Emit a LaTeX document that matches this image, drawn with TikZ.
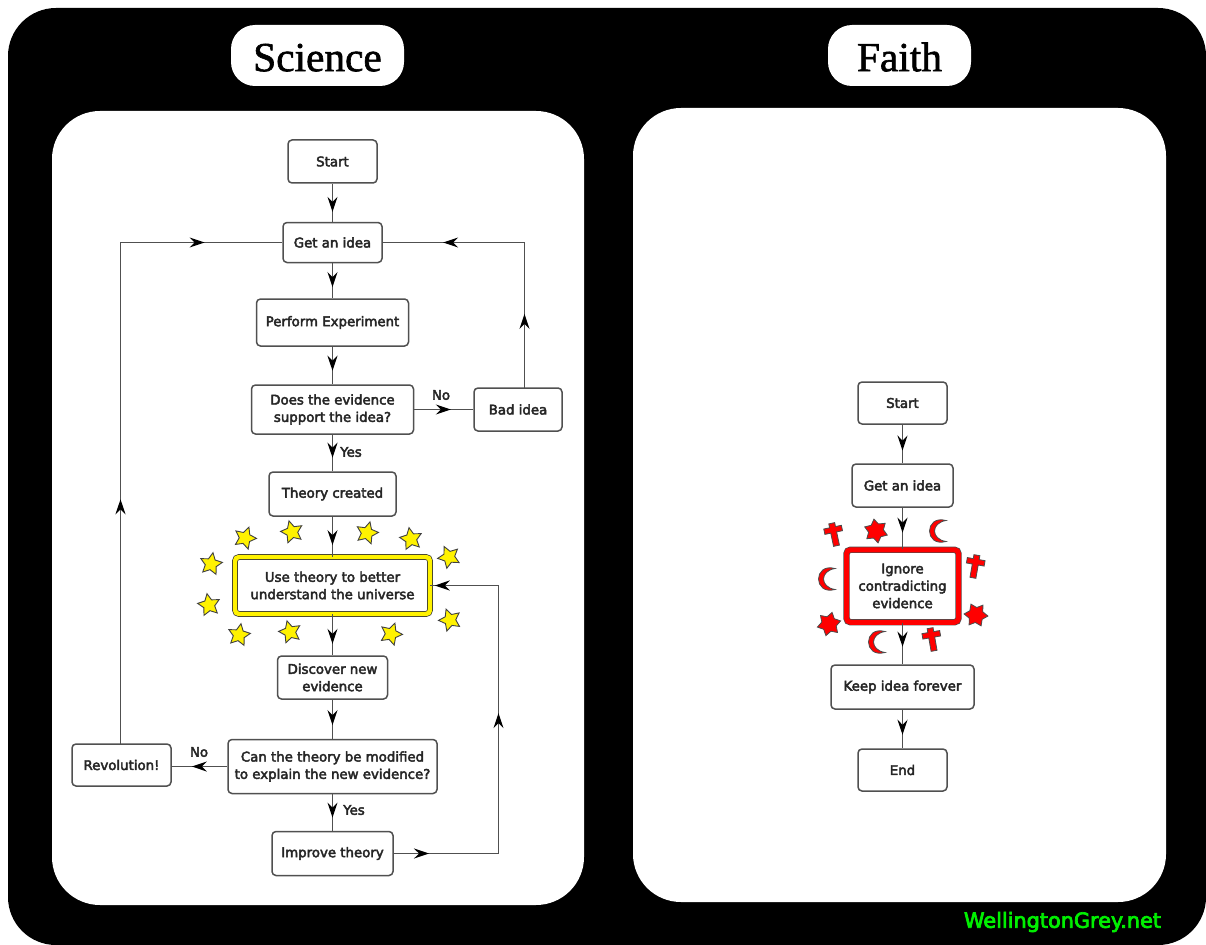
\documentclass[tikz,border=0pt]{standalone}
\usepackage{fontspec}
\setmainfont{DejaVu Sans}
\newfontfamily\flowfont[FakeBold=3.2]{DejaVu Sans}
\newfontfamily\titlefont[FakeBold=1.5]{Liberation Serif}
\newfontfamily\markfont[FakeBold=3.5]{DejaVu Sans}
\usetikzlibrary{arrows.meta,decorations.markings,shapes.geometric}
\def\u{0.75pt}
\definecolor{ink}{HTML}{262626}
\definecolor{edge}{HTML}{505050}
\definecolor{markgreen}{HTML}{00F000}
\tikzset{
  flowbox/.style={draw=edge,fill=white,line width=1.5*\u,rounded corners=4*\u,align=center,inner sep=0pt,
    font=\flowfont\fontsize{10pt}{13pt}\selectfont,text=ink},
  titlebox/.style={fill=white,rounded corners=24*\u,inner sep=0pt,text height=23.5pt,text depth=0pt,font=\titlefont\fontsize{31pt}{36pt}\selectfont,text=black},
  panel/.style={fill=white,rounded corners=48*\u},
  flow/.style={draw=edge,line width=1.5*\u},
  tip/.style={postaction={decorate,decoration={markings,mark=at position #1 with {\arrow[black]{Stealth[length=15*\u,width=10*\u,inset=5*\u]}}}}},
  flowlabel/.style={font=\flowfont\fontsize{10pt}{12pt}\selectfont,text=ink,inner sep=0pt},
  goldstar/.style={star,star points=5,star point ratio=2.0,minimum size=23*\u,inner sep=0pt,draw=black!75,line width=0.9*\u,fill=yellow},
  redstar/.style={star,star points=6,star point ratio=1.6,minimum size=24*\u,inner sep=0pt,draw=black!70,line width=0.8*\u,fill=red},
  redshape/.style={draw=black!70,line width=0.8*\u,fill=red},
  pics/crescent/.style={code={\path[redshape] (8,-10.5) .. controls (-14,-16.5) and (-14,16.5) .. (8,10.5) .. controls (-7.3,8) and (-7.3,-8) .. (8,-10.5) -- cycle;}},
  pics/holycross/.style={code={\path[redshape] (-3,-11)--(3,-11)--(3,-7)--(9,-7)--(9,-1.5)--(3,-1.5)--(3,12)--(-3,12)--(-3,-1.5)--(-9,-1.5)--(-9,-7)--(-3,-7)--cycle;}},
}
\begin{document}
\begin{tikzpicture}[x=0.75pt,y=-0.75pt]
\useasboundingbox (0,0) rectangle (1206,945);
\fill[white] (0,0) rectangle (1206,945);
\fill[black,rounded corners=48*\u] (8,8) rectangle (1206,945);
\fill[panel] (52,111) rectangle (584,905);
\fill[panel] (633,108) rectangle (1166,902);
\node[titlebox,minimum width=173*\u,minimum height=61*\u] (science) at (317.5,55.5) {Science};
\node[titlebox,minimum width=143*\u,minimum height=61*\u] (faith) at (899.5,55.5) {Faith};

% Science
\node[flowbox,minimum width=89*\u,minimum height=43*\u] (start) at (332.5,161.5) {Start};
\node[flowbox,minimum width=99*\u,minimum height=40*\u] (idea) at (332.5,242.5) {Get an idea};
\node[flowbox,minimum width=152*\u,minimum height=47*\u] (exp) at (332.5,322.5) {Perform Experiment};
\node[flowbox,minimum width=162*\u,minimum height=49*\u] (does) at (332.5,409.5) {Does the evidence\\support the idea?};
\node[flowbox,minimum width=88*\u,minimum height=43*\u] (bad) at (518,409.5) {Bad idea};
\node[flowbox,minimum width=127*\u,minimum height=44*\u] (theory) at (332.5,494) {Theory created};
\node[flowbox,draw=black!80,double=yellow,double distance=4.4*\u,line width=0.7*\u,minimum width=195*\u,minimum height=57*\u] (use) at (332.5,585.5) {Use theory to better\\understand the universe};
\node[flowbox,minimum width=110*\u,minimum height=43*\u] (disc) at (332.5,677.5) {Discover new\\evidence};
\node[flowbox,minimum width=209*\u,minimum height=54*\u] (can) at (332.5,766.5) {Can the theory be modified\\to explain the new evidence?};
\node[flowbox,minimum width=99*\u,minimum height=42*\u] (rev) at (121.5,765) {Revolution!};
\node[flowbox,minimum width=121*\u,minimum height=44*\u] (imp) at (332.5,853.5) {Improve theory};

\coordinate (revtop) at (120.5,744);
\coordinate (badtop) at (524.5,388);
\coordinate (ctop) at (120.5,242.5);
\coordinate (cbad) at (524.5,242.5);
\coordinate (cimp) at (498.5,853.5);
\coordinate (revright) at (171,766.5);

\draw[flow,tip=.74] (start) -- (idea);
\draw[flow,tip=.68] (idea) -- (exp);
\draw[flow,tip=.64] (exp) -- (does);
\draw[flow,tip=.63] (does) -- (theory);
\draw[flow,tip=.71] (theory) -- (use);
\draw[flow,tip=.72] (use) -- (disc);
\draw[flow,tip=.65] (disc) -- (can);
\draw[flow,tip=.64] (can) -- (imp);
\draw[flow,tip=.63] (can.west) -- (revright);
\draw[flow,tip=.62] (does) -- (bad);
\draw[flow,tip=.369,tip=.883] (revtop) -- (ctop) -- (idea);
\draw[flow,tip=.258,tip=.79] (badtop) -- (cbad) -- (idea);
\draw[flow,tip=.08,tip=.556,tip=.99] (imp) -- (cimp) |- (use);

\node[flowlabel] (lno1) at (441,395) {No};
\node[flowlabel] (lyes1) at (351,452) {Yes};
\node[flowlabel] (lno2) at (199,752) {No};
\node[flowlabel] (lyes2) at (354,810) {Yes};

\foreach \i/\x/\y/\r in {1/245/538/-20,2/292/532/15,3/367/533/-15,4/411/539/10,5/449/557/25,6/211/564/-10,7/209/605/10,8/239/635/-10,9/290/632/15,10/391/634/-20,11/450/620/20}
  \node[goldstar,rotate=\r] (star\i) at (\x,\y) {};

% Faith
\node[flowbox,minimum width=89*\u,minimum height=42*\u] (fstart) at (902.5,403) {Start};
\node[flowbox,minimum width=101*\u,minimum height=43*\u] (fidea) at (902.5,485.5) {Get an idea};
\node[flowbox,draw=black!70,double=red,double distance=5*\u,line width=0.7*\u,minimum width=112*\u,minimum height=72.5*\u] (ign) at (902.5,586) {Ignore\\contradicting\\evidence};
\node[flowbox,minimum width=143*\u,minimum height=44*\u] (keep) at (902.5,687) {Keep idea forever};
\node[flowbox,minimum width=89*\u,minimum height=42*\u] (fend) at (902.5,770) {End};
\draw[flow,tip=.67] (fstart) -- (fidea);
\draw[flow,tip=.6] (fidea) -- (ign);
\draw[flow,tip=.58] (ign) -- (keep);
\draw[flow,tip=.65] (keep) -- (fend);

\foreach \i/\x/\y/\r in {1/876/531/10,2/976/615/25,3/829/624/-15}
  \node[redstar,rotate=\r] (rstar\i) at (\x,\y) {};
\path (938,531) pic {crescent} (827,579) pic {crescent} (877,642) pic {crescent};
\path (834,534) pic[rotate=12] {holycross} (975,566) pic[rotate=-10] {holycross} (932,639) pic[rotate=10] {holycross};

\node[inner sep=0pt,font=\markfont\fontsize{15.6pt}{16pt}\selectfont,text=markgreen] (mark) at (1062.5,922) {WellingtonGrey.net};
\end{tikzpicture}
\end{document}
